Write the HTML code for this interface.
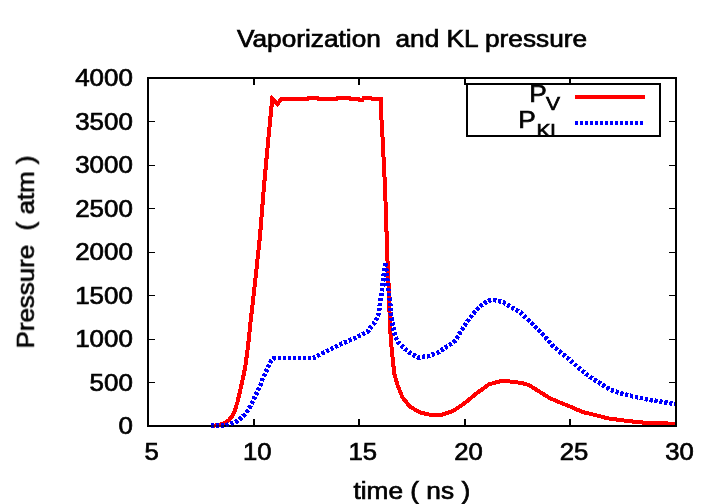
<!DOCTYPE html>
<html><head><meta charset="utf-8"><title>Vaporization and KL pressure</title>
<style>
html,body{margin:0;padding:0;background:#fff;}
svg{display:block;}
text{font-family:"Liberation Sans",sans-serif;font-size:24px;fill:#000;stroke:#000;stroke-width:0.7px;}
</style></head><body>
<svg width="720" height="504" viewBox="0 0 720 504">
<defs><clipPath id="sc"><rect x="205" y="425" width="45" height="2"/></clipPath><clipPath id="lc"><rect x="467" y="84" width="193" height="52.5"/></clipPath></defs>
<rect x="0" y="0" width="720" height="504" fill="#fff"/>
<g stroke="#000" stroke-width="1" shape-rendering="crispEdges" fill="none"><line x1="148" y1="382.5" x2="155" y2="382.5"/><line x1="676" y1="382.5" x2="669" y2="382.5"/><line x1="148" y1="339.0" x2="155" y2="339.0"/><line x1="676" y1="339.0" x2="669" y2="339.0"/><line x1="148" y1="295.5" x2="155" y2="295.5"/><line x1="676" y1="295.5" x2="669" y2="295.5"/><line x1="148" y1="252.0" x2="155" y2="252.0"/><line x1="676" y1="252.0" x2="669" y2="252.0"/><line x1="148" y1="208.5" x2="155" y2="208.5"/><line x1="676" y1="208.5" x2="669" y2="208.5"/><line x1="148" y1="165.0" x2="155" y2="165.0"/><line x1="676" y1="165.0" x2="669" y2="165.0"/><line x1="148" y1="121.5" x2="155" y2="121.5"/><line x1="676" y1="121.5" x2="669" y2="121.5"/></g>
<g fill="#000" shape-rendering="crispEdges"><rect x="253" y="419" width="2" height="7"/><rect x="253" y="78" width="2" height="7"/><rect x="358" y="419" width="2" height="7"/><rect x="358" y="78" width="2" height="7"/><rect x="464" y="419" width="2" height="7"/><rect x="464" y="78" width="2" height="7"/><rect x="569" y="419" width="2" height="7"/><rect x="569" y="78" width="2" height="7"/></g>
<g shape-rendering="crispEdges" fill="none" stroke-linejoin="miter">
<polyline points="211,425.8 218,425.3 225,423 229,420 232.5,415.7 235,410 237.5,402 241,387 245,368.5 248,346.5 250,327 251.7,312 256,273.5 260,236 264,186 268,142.5 270.8,113.7 272.3,98.6 277.5,104.4 281.25,98.75 307.5,98.75 308.5,97.75 317,97.75 318,98.75 337,98.75 338,97.75 349.5,97.75 350.5,98.75 358,98.75 359,99.75 362.5,99.75 363.5,98.25 371,98.25 372,99 380.9,99 381.3,116.7 382.5,136.7 383.8,163.3 385,186 386.25,223.5 387.5,261 389.25,298.5 389.5,312 390.8,340 392.5,356.7 394.2,373.3 397.5,385 402.5,397.5 410,406.7 420,412.5 430,414.7 441.7,414.7 453.3,410.8 463.3,404.2 476.7,393.3 489.2,384.2 502.5,380.75 515,382 525,383.75 530,385.75 540,392 550,398.25 560,402.5 570,406.5 582.5,412 595,415 607.5,418.25 620,420 632.5,421.5 645,422.75 660,423.25 676,423.75" stroke="#ff0000" stroke-width="4"/>
<polyline points="211,425.8 223.7,425.7 232.3,423.3 237,421.3 240.7,418.3 244.6,414.8 247.5,410.7 250,406.7 252.5,401.7 255,396.5 258,390.5 260.8,384.2 262.5,379.2 264.6,374.8 266.7,370 268.75,365.8 271.25,360.8 274.2,358 313,358 314.5,357.5 325,352 340,344.5 355,338 367.5,332 370,328 375,322 378.4,314.5 379.4,308.5 380.6,299.4 382,290 383,279.8 384.2,272 385.1,263.3" stroke="#0000ff" stroke-width="4.6" stroke-dasharray="3.2 1.8" stroke-dashoffset="0.40"/>
<polyline points="385.4,263 386.3,270 387.3,279.8 387.6,284.5 388.3,290 389.75,299.4 390.3,305 390.6,312 392.5,324.5 395,336 398.3,342.5 403.3,347.5 410,353 418.3,357.5 428.3,356.2 438.3,352.3 446.7,346.7 452,343.5 455,340.8 458,336 461.7,330 468.3,320 475,311.7 481.7,305 488.3,300.7 492,300 495,300 503.3,302.2 511.7,307.5 520.8,312.7 528.3,320 536.7,328.3 545,336.7 549.2,341.7 552,345 560,352 570,360 580,369 590,377 600,383.25 610,389.5 620,393.25 630,395.75 640,397.75 650,400 660,401.5 670,403.2 676,404.2" stroke="#0000ff" stroke-width="4.6" stroke-dasharray="3.2 1.8"/>
</g>
<rect x="148" y="78" width="528" height="348" fill="none" stroke="#000" stroke-width="2" shape-rendering="crispEdges"/>
<g clip-path="url(#sc)" opacity="0.55" shape-rendering="crispEdges" fill="none">
<polyline points="211,425.8 218,425.3 225,423 229,420 232.5,415.7 235,410" stroke="#ff0000" stroke-width="4"/>
<polyline points="211,425.8 223.7,425.7 232.3,423.3 237,421.3 240.7,418.3 244.6,414.8" stroke="#0000ff" stroke-width="4.6" stroke-dasharray="3.2 1.8" stroke-dashoffset="0.40"/>
</g>
<rect x="467" y="84" width="193" height="52" fill="#fff" stroke="none"/>
<g shape-rendering="crispEdges" fill="none">
<line x1="575" y1="97" x2="645" y2="97" stroke="#ff0000" stroke-width="4"/>
<line x1="575" y1="123" x2="645" y2="123" stroke="#0000ff" stroke-width="4" stroke-dasharray="3 2"/>
<rect x="467" y="84" width="193" height="52" stroke="#000" stroke-width="2"/>
<line x1="465" y1="78" x2="465" y2="85" stroke="#000" stroke-width="2"/>
</g>
<g opacity="0.999"><text transform="translate(412.00,47.30) scale(1.094,1)" text-anchor="middle" xml:space="preserve">Vaporization  and KL pressure</text>
<text transform="translate(411.80,499.20) scale(1.094,1)" text-anchor="middle" xml:space="preserve">time ( ns )</text>
<text transform="translate(33.90,252.00) rotate(-90) scale(1.08,1)" text-anchor="middle" xml:space="preserve">Pressure  ( atm )</text>
<text transform="translate(151.60,460.20) scale(1.07,1)" text-anchor="middle" xml:space="preserve">5</text><text transform="translate(257.20,460.20) scale(1.07,1)" text-anchor="middle" xml:space="preserve">10</text><text transform="translate(362.80,460.20) scale(1.07,1)" text-anchor="middle" xml:space="preserve">15</text><text transform="translate(468.40,460.20) scale(1.07,1)" text-anchor="middle" xml:space="preserve">20</text><text transform="translate(574.00,460.20) scale(1.07,1)" text-anchor="middle" xml:space="preserve">25</text><text transform="translate(679.60,460.20) scale(1.07,1)" text-anchor="middle" xml:space="preserve">30</text><text transform="translate(132.80,434.40) scale(1.08,1)" text-anchor="end" xml:space="preserve">0</text><text transform="translate(132.80,390.90) scale(1.08,1)" text-anchor="end" xml:space="preserve">500</text><text transform="translate(132.80,347.40) scale(1.08,1)" text-anchor="end" xml:space="preserve">1000</text><text transform="translate(132.80,303.90) scale(1.08,1)" text-anchor="end" xml:space="preserve">1500</text><text transform="translate(132.80,260.40) scale(1.08,1)" text-anchor="end" xml:space="preserve">2000</text><text transform="translate(132.80,216.90) scale(1.08,1)" text-anchor="end" xml:space="preserve">2500</text><text transform="translate(132.80,173.40) scale(1.08,1)" text-anchor="end" xml:space="preserve">3000</text><text transform="translate(132.80,129.90) scale(1.08,1)" text-anchor="end" xml:space="preserve">3500</text><text transform="translate(132.80,86.40) scale(1.08,1)" text-anchor="end" xml:space="preserve">4000</text>
<text transform="translate(546.70,101.70) scale(1.094,1)" text-anchor="end" xml:space="preserve">P</text><text transform="translate(546.00,109.50) scale(1.094,1)" text-anchor="start" xml:space="preserve" style="font-size:19.2px">V</text>
<text transform="translate(535.70,127.60) scale(1.094,1)" text-anchor="end" xml:space="preserve">P</text><g clip-path="url(#lc)"><text transform="translate(536.50,136.70) scale(1.094,1)" text-anchor="start" xml:space="preserve" style="font-size:19.2px">K</text><text transform="translate(550.30,136.70) scale(1.094,1)" text-anchor="start" xml:space="preserve" style="font-size:19.2px">L</text></g></g>
</svg>
</body></html>
